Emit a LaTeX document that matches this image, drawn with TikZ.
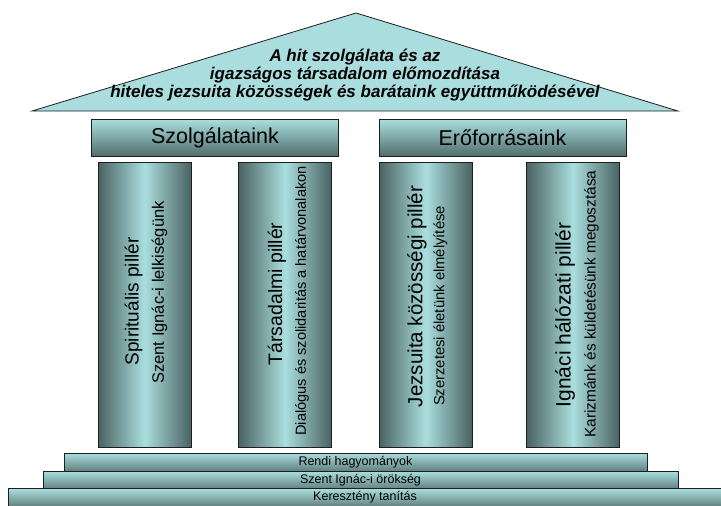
\documentclass[tikz,border=0pt]{standalone}
\usepackage{fontspec}
\setmainfont{Liberation Sans}
\definecolor{roofc}{RGB}{170,221,221}
\definecolor{lightc}{RGB}{170,222,222}
\definecolor{darkc}{RGB}{74,98,98}
\definecolor{hdrdark}{RGB}{82,110,110}
\definecolor{bardark}{RGB}{98,128,128}
\definecolor{edgec}{RGB}{30,30,30}
\begin{document}
\begin{tikzpicture}[x=1pt,y=-1pt,
  pillarbox/.style={draw=edgec,line width=0.8pt,left color=darkc,right color=darkc,middle color=lightc,
    minimum width=93pt,minimum height=285pt,inner sep=0pt,outer sep=0pt},
  hdrbox/.style={draw=edgec,line width=0.8pt,top color=lightc,bottom color=hdrdark,
    minimum width=247pt,minimum height=37pt,inner sep=0pt,outer sep=0pt,
    font=\fontsize{21.5}{24}\selectfont},
  barbox/.style={draw=edgec,line width=0.7pt,top color=lightc,bottom color=bardark,
    minimum height=18pt,inner sep=0pt,outer sep=0pt,font=\fontsize{12.5}{14}\selectfont},
  ptitle/.style={rotate=90,inner sep=0pt},
  psub/.style={rotate=90,inner sep=0pt},
]
\useasboundingbox (0,0) rectangle (721,506);
% roof
\coordinate (apex) at (356,13);
\coordinate (rr) at (678,111);
\coordinate (rl) at (32,111);
\draw[draw=edgec,line width=0.8pt,fill=roofc] (apex) -- (rr) -- (rl) -- cycle;
\node[align=center,inner sep=0pt,font=\fontsize{17}{18}\selectfont\bfseries\itshape] (rooftext) at (355,75)
  {A hit szolgálata és az\\igazságos társadalom előmozdítása\\hiteles jezsuita közösségek és barátaink együttműködésével};
% headers
\node[hdrbox] (h1) at (215,137.5) {Szolgálataink};
\node[hdrbox] (h2) at (502.5,137.5) {Erőforrásaink};
% pillars
\node[pillarbox] (p1) at (144.5,304.5) {};
\node[pillarbox] (p2) at (285,304.5) {};
\node[pillarbox] (p3) at (425.5,304.5) {};
\node[pillarbox] (p4) at (573,304.5) {};
% pillar texts
\node[ptitle,font=\fontsize{19}{20}\selectfont] (t1) at (133.5,301.5) {Spirituális pillér};
\node[psub,font=\fontsize{16.5}{18}\selectfont] (s1) at (159.5,292.5) {Szent Ignác-i lelkiségünk};
\node[ptitle,font=\fontsize{19.5}{20}\selectfont] (t2) at (277,294) {Társadalmi pillér};
\node[psub,font=\fontsize{14.6}{17}\selectfont] (s2) at (302,301) {Dialógus és szolidaritás a határvonalakon};
\node[ptitle,font=\fontsize{20.5}{22}\selectfont] (t3) at (417,296.5) {Jezsuita közösségi pillér};
\node[psub,font=\fontsize{14.8}{17}\selectfont] (s3) at (440.5,306) {Szerzetesi életünk elmélyítése};
\node[ptitle,font=\fontsize{21}{22}\selectfont] (t4) at (565,315) {Ignáci hálózati pillér};
\node[psub,font=\fontsize{15.4}{17}\selectfont] (s4) at (591.5,304) {Karizmánk és küldetésünk megosztása};
% base steps
\node[barbox,minimum width=583pt] (b1) at (355.5,462) {Rendi hagyományok};
\node[barbox,minimum width=635pt] (b2) at (360.5,480) {Szent Ignác-i örökség};
\node[barbox,minimum width=714pt] (b3) at (365,497.5) {Keresztény tanítás};
\end{tikzpicture}
\end{document}
